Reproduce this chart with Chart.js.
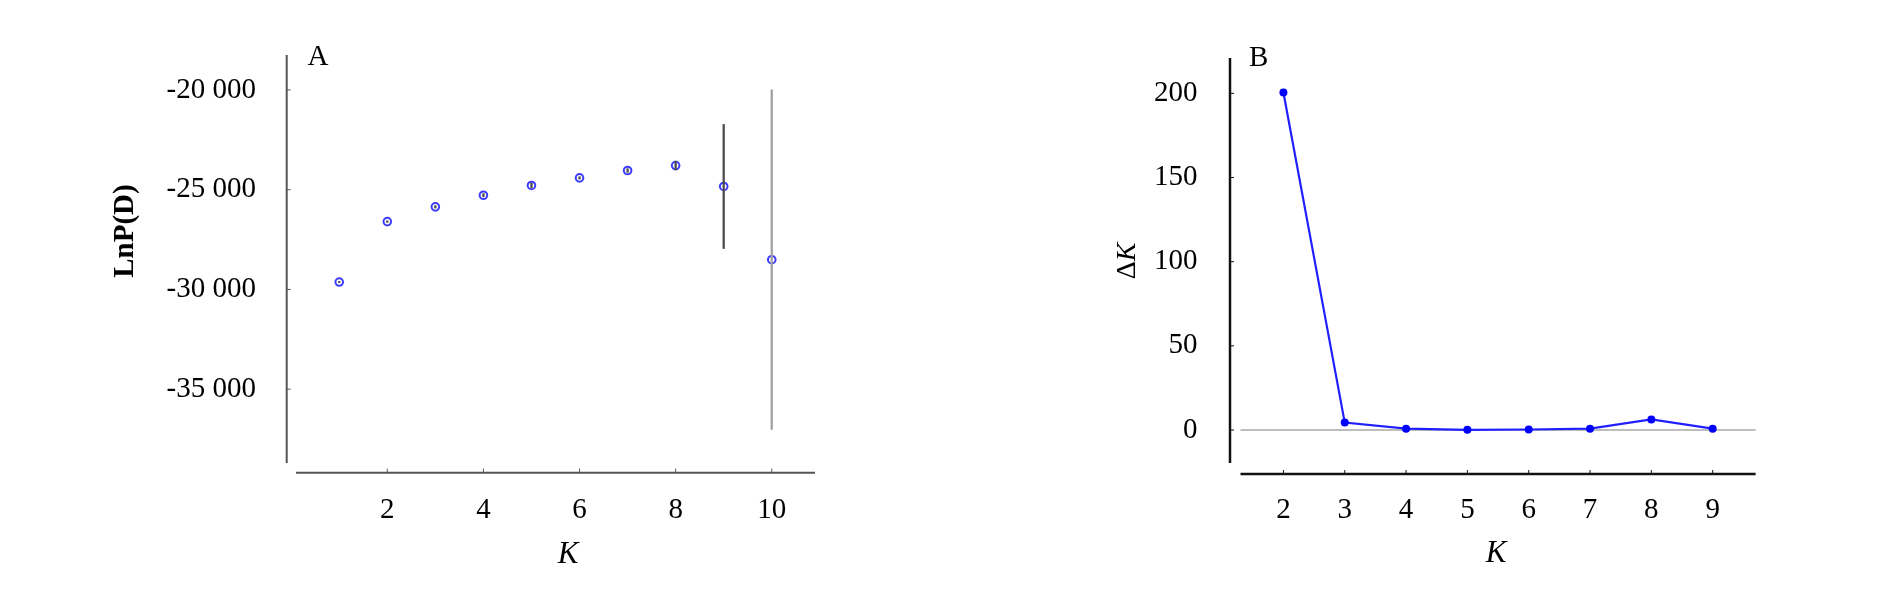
<!DOCTYPE html>
<html>
<head>
<meta charset="utf-8">
<script src="https://cdn.jsdelivr.net/npm/chart.js@4.4.1/dist/chart.umd.min.js"></script>
<style>
  html, body { margin: 0; padding: 0; background: #fff; }
  .panel { position: absolute; top: 0; width: 945px; height: 592px; }
</style>
</head>
<body>
<div class="panel" style="left:0"><canvas id="chartA"></canvas></div>
<div class="panel" style="left:945px"><canvas id="chartB"></canvas></div>
<script>
// panel A: mean LnP(D) per K with its standard deviation
const kValuesA = [1, 2, 3, 4, 5, 6, 7, 8, 9, 10];
const lnPMeans = [-29630, -26600, -25860, -25280, -24790, -24410, -24040, -23790, -24840, -28510];
const lnPSd = [30, 40, 60, 80, 120, 60, 90, 220, 3110, 8510];
const xTicksA = [2, 4, 6, 8, 10];
const yTicksA = [-20000, -25000, -30000, -35000];

// panel B: delta K
const kValuesB = [2, 3, 4, 5, 6, 7, 8, 9];
const deltaK = [200.5, 4.4, 0.8, 0.1, 0.3, 0.8, 6.3, 0.8];
const xTicksB = [2, 3, 4, 5, 6, 7, 8, 9];
const yTicksB = [0, 50, 100, 150, 200];

const SERIF = "'Liberation Serif', 'Times New Roman', serif";
const tickFont = { family: SERIF, size: 29 };

function spaced(v) {
    const s = Math.abs(v).toString().replace(/\B(?=(\d{3})+(?!\d))/g, ' ');
    return (v < 0 ? '-' : '') + s;
}

// axis lines drawn a bit away from the plot area, ticks pointing inward
function offsetAxes(o) {
    return {
        id: 'offsetAxes',
        beforeDatasetsDraw(chart) {
            const { ctx, chartArea: a, scales: { x, y } } = chart;
            const ax = a.left - o.gapX;
            const ay = a.bottom + o.gapY;
            ctx.save();
            if (o.zeroColor) {
                const zy = y.getPixelForValue(0);
                ctx.strokeStyle = o.zeroColor;
                ctx.lineWidth = 2;
                ctx.beginPath();
                ctx.moveTo(a.left, zy);
                ctx.lineTo(a.right, zy);
                ctx.stroke();
            }
            ctx.strokeStyle = o.color;
            ctx.lineWidth = o.width;
            ctx.beginPath();
            ctx.moveTo(ax, a.top);
            ctx.lineTo(ax, a.bottom);
            ctx.moveTo(a.left, ay);
            ctx.lineTo(a.right, ay);
            ctx.stroke();
            ctx.lineWidth = 1;
            ctx.beginPath();
            y.ticks.forEach(t => {
                const py = y.getPixelForValue(t.value);
                ctx.moveTo(ax, py);
                ctx.lineTo(ax + o.tick, py);
            });
            x.ticks.forEach(t => {
                const px = x.getPixelForValue(t.value);
                ctx.moveTo(px, ay);
                ctx.lineTo(px, ay - o.tick);
            });
            ctx.stroke();
            ctx.restore();
        }
    };
}

// panel letters and axis titles (mixed upright / italic parts)
function panelText(items) {
    return {
        id: 'panelText',
        afterDraw(chart) {
            const ctx = chart.ctx;
            ctx.save();
            ctx.fillStyle = '#000';
            items.forEach(it => {
                let total = 0;
                it.parts.forEach(p => { ctx.font = p.font; total += ctx.measureText(p.text).width; });
                ctx.save();
                ctx.translate(it.x, it.y);
                if (it.rotate) ctx.rotate(it.rotate);
                ctx.textBaseline = it.baseline || 'alphabetic';
                let cx = it.align === 'left' ? 0 : -total / 2;
                it.parts.forEach(p => {
                    ctx.font = p.font;
                    ctx.fillText(p.text, cx, 0);
                    cx += ctx.measureText(p.text).width;
                });
                ctx.restore();
            });
            ctx.restore();
        }
    };
}

function ChartA() {
    const ctx = document.getElementById('chartA');
    new Chart(ctx, {
        type: 'scatter',
        data: {
            datasets: [
                {
                    type: 'bar',
                    label: 'SD',
                    data: kValuesA.map((k, i) => ({ x: k, y: [lnPMeans[i] - lnPSd[i], lnPMeans[i] + lnPSd[i]] })),
                    backgroundColor: c => (c.dataIndex === 9 ? '#a0a0a0' : '#4a4a4a'),
                    barThickness: 1.6,
                    order: 1,
                },
                {
                    type: 'scatter',
                    label: 'LnP(D)',
                    data: kValuesA.map((k, i) => ({ x: k, y: lnPMeans[i] })),
                    pointStyle: 'circle',
                    pointRadius: 3.8,
                    borderColor: '#3c3cff',
                    backgroundColor: 'rgba(0,0,0,0)',
                    pointBorderWidth: 2,
                    order: 2,
                },
            ],
        },
        options: {
            responsive: true,
            maintainAspectRatio: false,
            animation: false,
            layout: { autoPadding: false, padding: { left: 0, top: 55, right: 130, bottom: 0 } },
            scales: {
                x: {
                    type: 'linear',
                    min: 0.1,
                    max: 10.9,
                    offset: false,
                    afterBuildTicks: s => { s.ticks = xTicksA.map(v => ({ value: v })); },
                    afterFit: s => { s.height = 129; },
                    grid: { display: false },
                    border: { display: false },
                    ticks: { font: tickFont, color: '#000', padding: 22, maxRotation: 0, autoSkip: false },
                },
                y: {
                    type: 'linear',
                    min: -38700,
                    max: -18250,
                    afterBuildTicks: s => { s.ticks = yTicksA.map(v => ({ value: v })); },
                    afterFit: s => { s.width = 296; },
                    grid: { display: false },
                    border: { display: false },
                    ticks: { font: tickFont, color: '#000', padding: 32, callback: v => spaced(v) },
                },
            },
            plugins: { legend: { display: false }, tooltip: { enabled: false } },
        },
        plugins: [
            offsetAxes({ gapX: 9.3, gapY: 9.7, color: '#555', width: 2, tick: 4 }),
            panelText([
                { parts: [{ text: 'A', font: `29px ${SERIF}` }], x: 307.5, y: 65, align: 'left' },
                { parts: [{ text: 'LnP(D)', font: `bold 29px ${SERIF}` }], x: 126, y: 231, rotate: -Math.PI / 2, baseline: 'middle' },
                { parts: [{ text: 'K', font: `italic 31px ${SERIF}` }], x: 568, y: 563 },
            ]),
        ],
    });
}

function ChartB() {
    const ctx = document.getElementById('chartB');
    new Chart(ctx, {
        type: 'line',
        data: {
            datasets: [
                {
                    label: 'ΔK',
                    data: kValuesB.map((k, i) => ({ x: k, y: deltaK[i] })),
                    borderColor: '#2020ff',
                    borderWidth: 2.2,
                    pointRadius: 4,
                    pointBackgroundColor: '#0000ff',
                    pointBorderWidth: 0,
                    tension: 0,
                    fill: false,
                },
            ],
        },
        options: {
            responsive: true,
            maintainAspectRatio: false,
            animation: false,
            layout: { autoPadding: false, padding: { left: 0, top: 58, right: 134.4, bottom: 0 } },
            scales: {
                x: {
                    type: 'linear',
                    min: 1.3,
                    max: 9.7,
                    offset: false,
                    afterBuildTicks: s => { s.ticks = xTicksB.map(v => ({ value: v })); },
                    afterFit: s => { s.height = 129; },
                    grid: { display: false },
                    border: { display: false },
                    ticks: { font: tickFont, color: '#000', padding: 22, maxRotation: 0, autoSkip: false },
                },
                y: {
                    type: 'linear',
                    min: -19.6,
                    max: 221,
                    afterBuildTicks: s => { s.ticks = yTicksB.map(v => ({ value: v })); },
                    afterFit: s => { s.width = 295.5; },
                    grid: { display: false },
                    border: { display: false },
                    ticks: { font: tickFont, color: '#000', padding: 35 },
                },
            },
            plugins: { legend: { display: false }, tooltip: { enabled: false } },
        },
        plugins: [
            offsetAxes({ gapX: 10.5, gapY: 11, color: '#111', width: 2.5, tick: 4, zeroColor: '#bdbdbd' }),
            panelText([
                { parts: [{ text: 'B', font: `29px ${SERIF}` }], x: 304, y: 66, align: 'left' },
                { parts: [{ text: 'Δ', font: `28px ${SERIF}` }, { text: 'K', font: `italic 28px ${SERIF}` }], x: 190, y: 261, rotate: -Math.PI / 2 },
                { parts: [{ text: 'K', font: `italic 31px ${SERIF}` }], x: 551, y: 562 },
            ]),
        ],
    });
}

ChartA();
ChartB();
</script>
</body>
</html>
